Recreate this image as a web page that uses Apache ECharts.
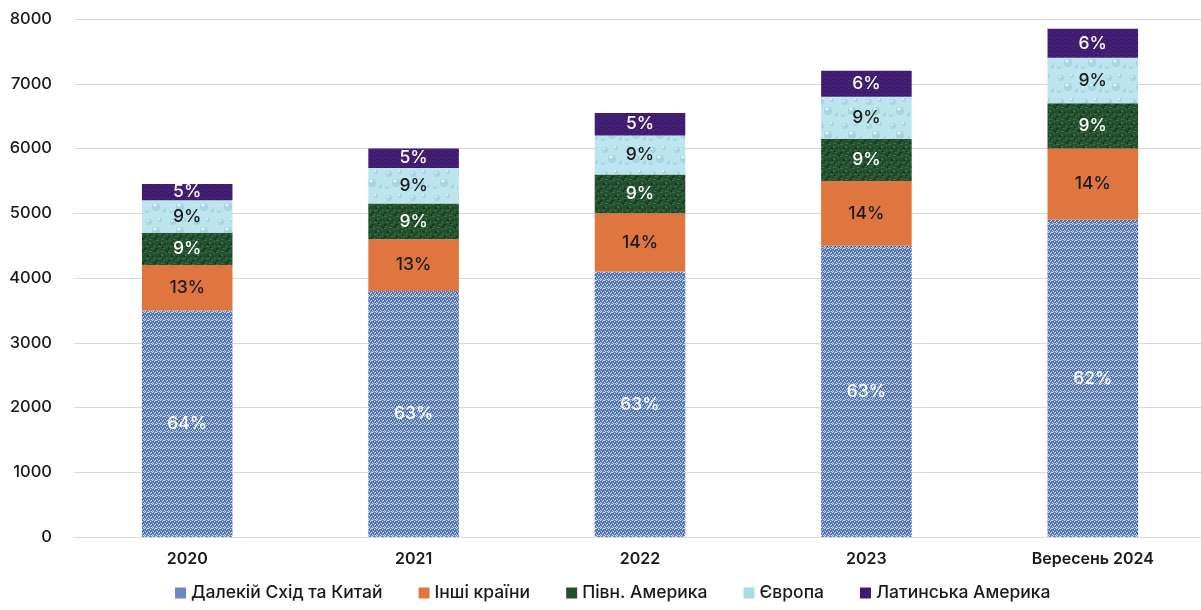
<!DOCTYPE html>
<html><head><meta charset="utf-8">
<script src="https://cdn.jsdelivr.net/npm/echarts@6/dist/echarts.min.js"></script>
<style>html,body{margin:0;padding:0;background:#fff;overflow:hidden}#c{width:1206px;height:610px}</style>
</head><body><div id="c"></div>
<script>
const categories = ['2020','2021','2022','2023','Вересень 2024'];
const seriesNames = ['Далекій Схід та Китай','Інші країни','Півн. Америка','Європа','Латинська Америка'];
const farEast = [3500, 3800, 4100, 4500, 4900];
const others = [700, 800, 900, 1000, 1100];
const northAm = [500, 550, 600, 650, 700];
const europe = [500, 550, 600, 650, 700];
const latinAm = [250, 300, 350, 400, 450];
const farEastPct = ['64%','63%','63%','63%','62%'];
const othersPct = ['13%','13%','14%','14%','14%'];
const northAmPct = ['9%','9%','9%','9%','9%'];
const europePct = ['9%','9%','9%','9%','9%'];
const latinAmPct = ['5%','5%','5%','6%','6%'];
const yTicks = {min:0, max:8000, interval:1000};

function tile(size, base, draw){
  const c = document.createElement('canvas'); c.width = size; c.height = size;
  const g = c.getContext('2d'); g.fillStyle = base; g.fillRect(0,0,size,size); draw(g); return c;
}
const bluePat = tile(8, '#6584c4', g => {
  g.fillStyle = '#d2dcf1';
  [[0,0],[2,1],[4,0],[6,1],[1,3],[3,4],[5,3],[7,4],[0,6],[2,5],[4,6],[6,5],[1,7],[5,7],[3,0],[7,7]].forEach(p=>g.fillRect(p[0],p[1],1,1));
  g.fillStyle = '#3a5fa8';
  [[1,1],[3,2],[5,1],[7,2],[0,4],[2,3],[4,4],[6,3],[1,5],[3,6],[5,5],[7,6]].forEach(p=>g.fillRect(p[0],p[1],1,1));
});
const greenPat = tile(12, '#24502f', g => {
  g.fillStyle = '#3a6e45';
  [[0,0,3,1],[5,2,2,2],[9,1,2,1],[2,6,3,1],[7,8,2,1],[10,5,1,3],[1,10,2,1],[5,11,3,1]].forEach(r=>g.fillRect(r[0],r[1],r[2],r[3]));
  g.fillStyle = '#163a20';
  [[3,3,2,2],[8,4,2,1],[0,8,2,2],[6,6,1,2],[10,10,2,2]].forEach(r=>g.fillRect(r[0],r[1],r[2],r[3]));
});
const eurPat = tile(24, '#bde5ee', g => {
  g.fillStyle = '#a5d4e2';
  [[5,6,3],[16,4,2],[12,15,4],[3,19,2],[20,18,2]].forEach(d=>{g.beginPath();g.arc(d[0],d[1],d[2],0,Math.PI*2);g.fill();});
  g.fillStyle = '#e6f6fa';
  [[4,5,1],[15,3,1],[11,13,1.5],[3,18,0.8],[19,17,0.8]].forEach(d=>{g.beginPath();g.arc(d[0],d[1],d[2],0,Math.PI*2);g.fill();});
});
const purplePat = tile(8, '#3f1c70', g => {
  g.fillStyle = '#4e2a85';
  [[0,0,2,1],[4,2,2,1],[1,5,2,1],[5,6,2,1]].forEach(r=>g.fillRect(r[0],r[1],r[2],r[3]));
});

const fills = [
  {image: bluePat, repeat:'repeat'},
  '#e0763f',
  {image: greenPat, repeat:'repeat'},
  {image: eurPat, repeat:'repeat'},
  {image: purplePat, repeat:'repeat'}
];
const dataSets = [farEast, others, northAm, europe, latinAm];
const pctSets = [farEastPct, othersPct, northAmPct, europePct, latinAmPct];
const labelColors = ['#ffffff','#1a1a1a','#ffffff','#1a1a1a','#ffffff'];
const legendColors = ['#6a88c6','#e0763f','#24502f','#a9dbe6','#3f1c70'];
const FONT = 'Inter, Roboto, sans-serif';

const chart = echarts.init(document.getElementById('c'), null, {renderer:'canvas'});
chart.setOption({
  animation:false,
  grid:{left:74, right:0, top:19, bottom:73, containLabel:false},
  legend:{
    bottom:3, left:170, itemWidth:11, itemHeight:11, itemGap:36, icon:'rect',
    textStyle:{fontSize:17.5, color:'#1a1a1a', fontFamily:FONT, fontWeight:500},
    data: seriesNames.map((n,i)=>({name:n, itemStyle:{color:legendColors[i]}}))
  },
  xAxis:{
    type:'category', data:categories,
    axisLine:{lineStyle:{color:'#d9d9d9', width:1}},
    axisTick:{show:false},
    axisLabel:{fontSize:16, color:'#1a1a1a', margin:14, fontFamily:FONT, fontWeight:600}
  },
  yAxis:{
    type:'value', min:yTicks.min, max:yTicks.max, interval:yTicks.interval,
    axisLine:{show:false}, axisTick:{show:false},
    splitLine:{lineStyle:{color:'#d9d9d9', width:1}},
    axisLabel:{fontSize:16.5, color:'#1a1a1a', margin:22, fontFamily:FONT, fontWeight:500,
      formatter: v => String(v)}
  },
  series: dataSets.map((d,i)=>({
    name: seriesNames[i], type:'bar', stack:'total', barWidth:'40%',
    data: d,
    itemStyle:{color: fills[i]},
    label:{
      show:true, position:'inside', fontSize:17.5, fontWeight:500,
      fontFamily:FONT, color: labelColors[i],
      formatter: p => pctSets[i][p.dataIndex]
    }
  }))
});
</script></body></html>
